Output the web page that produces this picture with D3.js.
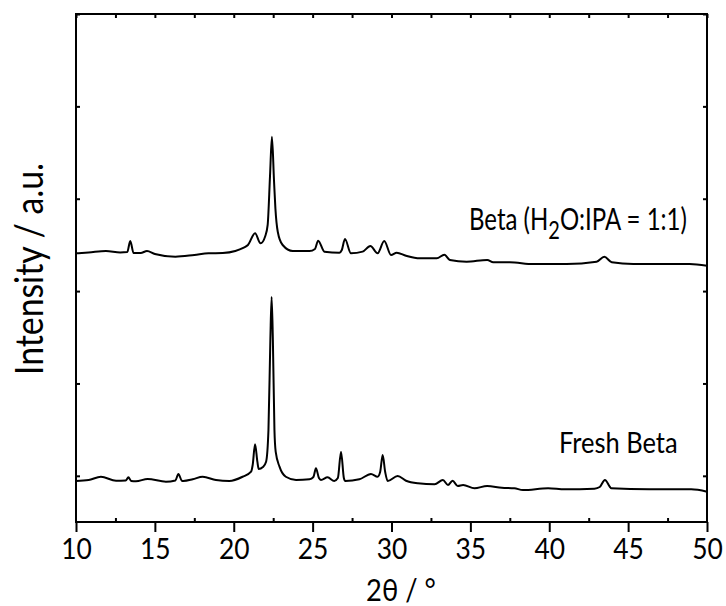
<!DOCTYPE html>
<html>
<head>
<meta charset="utf-8">
<script src="https://cdn.jsdelivr.net/npm/d3@7/dist/d3.min.js"></script>
<style>
  html, body { margin: 0; padding: 0; background: #fff; }
  svg { display: block; }
  text { font-family: Lato, "Open Sans", sans-serif; fill: #000; }
</style>
</head>
<body>
<svg id="chart" width="726" height="606"></svg>
<script>
// ---- data ----
const xTicks = [10, 15, 20, 25, 30, 35, 40, 45, 50];
const xTickLabels = ["10", "15", "20", "25", "30", "35", "40", "45", "50"];
const xMinorTicks = [12.5, 17.5, 22.5, 27.5, 32.5, 37.5, 42.5, 47.5];
const yTicks = [500, 1500, 2500, 3500, 4500, 5500];

const seriesNames = ["Beta (H2O:IPA = 1:1)", "Fresh Beta"];

const betaIPA_2theta = [10.0, 10.8, 11.9, 12.8, 13.25, 13.44, 13.65, 14.1, 14.5, 15.0, 16.3, 17.5, 18.4, 19.3, 20.1, 20.6, 20.9, 21.35, 21.7, 22.0, 22.15, 22.3, 22.42, 22.55, 22.64, 22.79, 23.1, 23.74, 24.8, 25.15, 25.35, 25.75, 26.7, 26.85, 27.05, 27.43, 28.17, 28.66, 29.12, 29.54, 29.97, 30.33, 30.92, 31.8, 32.87, 33.35, 33.7, 34.76, 36.07, 36.45, 37.5, 38.99, 41.1, 43.0, 43.49, 43.96, 45.33, 47.45, 48.9, 50.0];
const betaIPA_intensity = [2909, 2918, 2934, 2918, 2923, 3042, 2912, 2912, 2934, 2902, 2872, 2891, 2909, 2912, 2934, 2967, 2999, 3126, 3017, 3097, 3216, 3750, 4172, 3703, 3396, 3143, 2999, 2934, 2934, 2956, 3046, 2927, 2916, 2945, 3064, 2909, 2927, 2988, 2909, 3042, 2891, 2916, 2883, 2855, 2855, 2894, 2837, 2818, 2837, 2812, 2812, 2793, 2793, 2818, 2872, 2812, 2793, 2793, 2793, 2775];

const fresh_2theta = [10.0, 10.8, 11.58, 12.54, 13.15, 13.32, 13.5, 13.8, 14.54, 15.7, 16.3, 16.49, 16.7, 16.8, 17.4, 18.03, 18.87, 19.72, 20.56, 21.1, 21.2, 21.35, 21.5, 21.58, 21.85, 22.05, 22.2, 22.32, 22.4, 22.48, 22.58, 22.66, 22.9, 23.3, 23.95, 24.8, 25.05, 25.21, 25.4, 25.53, 25.95, 26.37, 26.6, 26.8, 26.98, 27.07, 27.96, 28.7, 29.12, 29.28, 29.44, 29.6, 29.76, 30.39, 30.92, 31.67, 32.73, 33.26, 33.58, 33.87, 34.2, 34.54, 35.26, 36.06, 36.99, 37.79, 38.33, 39.93, 40.99, 42.86, 43.2, 43.53, 43.85, 43.93, 46.33, 49.0, 50.0];
const fresh_intensity = [444, 455, 490, 447, 449, 484, 444, 441, 466, 436, 449, 520, 449, 444, 462, 490, 455, 444, 490, 545, 617, 841, 650, 574, 595, 653, 996, 1971, 2436, 1971, 996, 758, 599, 490, 455, 462, 487, 581, 476, 455, 484, 444, 476, 761, 476, 444, 462, 520, 490, 541, 725, 541, 444, 498, 447, 419, 408, 455, 401, 447, 390, 401, 365, 390, 371, 365, 346, 365, 354, 361, 379, 455, 379, 365, 354, 354, 328];

// ---- layout ----
const svg = d3.select("#chart");
const L = 76, R = 707, T = 14, B = 522;
const x = d3.scaleLinear().domain([10, 50]).range([L, R]);
const y = d3.scaleLinear().domain([0, 5500]).range([B, T]);
const SQ = 0.91; // horizontal squeeze of the reference lettering

// traces
const line = d3.line().x(d => x(d[0])).y(d => y(d[1])).curve(d3.curveMonotoneX);
const traces = [
  d3.zip(betaIPA_2theta, betaIPA_intensity),
  d3.zip(fresh_2theta, fresh_intensity)
];
svg.append("g").selectAll("path").data(traces).join("path")
  .attr("d", line)
  .attr("fill", "none")
  .attr("stroke", "#000")
  .attr("stroke-width", 2)
  .attr("stroke-linejoin", "round");

// axes
function styleAxis(g) {
  g.select(".domain").remove();
  g.selectAll(".tick line").attr("stroke", "#000").attr("stroke-width", 2);
}
const allTop = d3.range(10, 50.01, 2.5);

svg.append("g").attr("transform", `translate(0,${B})`)
  .call(d3.axisBottom(x).tickValues(xTicks).tickSize(10)
        .tickFormat((d, i) => xTickLabels[i]))
  .call(styleAxis)
  .call(g => g.selectAll(".tick text")
    .attr("y", 37).attr("dy", 0)
    .attr("font-size", 29)
    .attr("font-family", "Lato")
    .attr("transform", `scale(${SQ},1)`));

svg.append("g").attr("transform", `translate(0,${B})`)
  .call(d3.axisBottom(x).tickValues(xMinorTicks).tickSize(-4).tickFormat(""))
  .call(styleAxis);

svg.append("g").attr("transform", `translate(0,${T})`)
  .call(d3.axisTop(x).tickValues(allTop).tickSize(-4).tickFormat(""))
  .call(styleAxis);

svg.append("g").attr("transform", `translate(${L},0)`)
  .call(d3.axisLeft(y).tickValues(yTicks).tickSize(-4).tickFormat(""))
  .call(styleAxis);

svg.append("g").attr("transform", `translate(${R},0)`)
  .call(d3.axisRight(y).tickValues(yTicks).tickSize(-4).tickFormat(""))
  .call(styleAxis);

// frame
svg.append("rect")
  .attr("x", L).attr("y", T).attr("width", R - L).attr("height", B - T)
  .attr("fill", "none").attr("stroke", "#000").attr("stroke-width", 2);

// axis titles
svg.append("text")
  .attr("transform", `translate(43,269) rotate(-90)`)
  .attr("text-anchor", "middle")
  .attr("font-size", 39)
  .attr("textLength", 212).attr("lengthAdjust", "spacingAndGlyphs")
  .text("Intensity / a.u.");

svg.append("text")
  .attr("transform", `translate(401,601) scale(${SQ},1)`)
  .attr("text-anchor", "middle")
  .attr("font-size", 30)
  .text("2θ / °");

// series labels
const lab1 = svg.append("text")
  .attr("transform", `translate(469,230) scale(0.8,1)`)
  .attr("font-size", 30);
lab1.append("tspan").text("Beta (H");
lab1.append("tspan").attr("font-size", 25).attr("dy", 9).text("2");
lab1.append("tspan").attr("dy", -9).text("O:IPA = 1:1)");

svg.append("text")
  .attr("transform", `translate(559,453) scale(${SQ},1)`)
  .attr("font-size", 28)
  .text(seriesNames[1]);
</script>
</body>
</html>
